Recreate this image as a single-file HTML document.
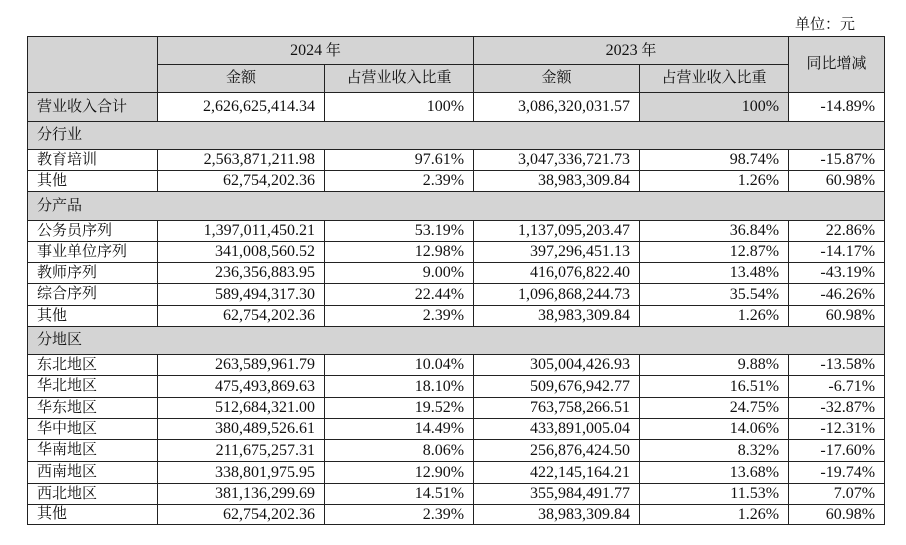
<!DOCTYPE html>
<html><head><meta charset="utf-8"><style>
body{margin:0;width:906px;height:545px;background:#fff;position:relative;font-family:"Liberation Serif","Noto Serif CJK SC",serif;font-size:15px;color:#111}
.unit{position:absolute;left:795px;top:13px;font-size:15px}
table{position:absolute;left:27px;top:36px;border-collapse:collapse;table-layout:fixed;width:857px}
td{border:1px solid #222;padding:0 9px 0 9px;white-space:nowrap;line-height:1;overflow:hidden}
.g{background:#d4d4d4}
.r{text-align:right;font-size:16px}
.c{text-align:center}
</style></head><body>
<div class="unit">单位：元</div>
<table>
<colgroup><col style="width:130px"><col style="width:167px"><col style="width:149px"><col style="width:166px"><col style="width:149px"><col style="width:96px"></colgroup>
<tr style="height:28px"><td class="g" rowspan="2"></td><td class="g c" colspan="2"><span style="font-size:16px">2024</span> 年</td><td class="g c" colspan="2"><span style="font-size:16px">2023</span> 年</td><td class="g c" rowspan="2">同比增减</td></tr>
<tr style="height:28px"><td class="g c">金额</td><td class="g c">占营业收入比重</td><td class="g c">金额</td><td class="g c">占营业收入比重</td></tr>
<tr style="height:29px"><td class="g">营业收入合计</td><td class="r">2,626,625,414.34</td><td class="r">100%</td><td class="r">3,086,320,031.57</td><td class="r g">100%</td><td class="r">-14.89%</td></tr>
<tr style="height:28px"><td class="g" colspan="6">分行业</td></tr>
<tr style="height:21px"><td>教育培训</td><td class="r">2,563,871,211.98</td><td class="r">97.61%</td><td class="r">3,047,336,721.73</td><td class="r">98.74%</td><td class="r">-15.87%</td></tr>
<tr style="height:21px"><td>其他</td><td class="r">62,754,202.36</td><td class="r">2.39%</td><td class="r">38,983,309.84</td><td class="r">1.26%</td><td class="r">60.98%</td></tr>
<tr style="height:29px"><td class="g" colspan="6">分产品</td></tr>
<tr style="height:21px"><td>公务员序列</td><td class="r">1,397,011,450.21</td><td class="r">53.19%</td><td class="r">1,137,095,203.47</td><td class="r">36.84%</td><td class="r">22.86%</td></tr>
<tr style="height:21px"><td>事业单位序列</td><td class="r">341,008,560.52</td><td class="r">12.98%</td><td class="r">397,296,451.13</td><td class="r">12.87%</td><td class="r">-14.17%</td></tr>
<tr style="height:21px"><td>教师序列</td><td class="r">236,356,883.95</td><td class="r">9.00%</td><td class="r">416,076,822.40</td><td class="r">13.48%</td><td class="r">-43.19%</td></tr>
<tr style="height:22px"><td>综合序列</td><td class="r">589,494,317.30</td><td class="r">22.44%</td><td class="r">1,096,868,244.73</td><td class="r">35.54%</td><td class="r">-46.26%</td></tr>
<tr style="height:21px"><td>其他</td><td class="r">62,754,202.36</td><td class="r">2.39%</td><td class="r">38,983,309.84</td><td class="r">1.26%</td><td class="r">60.98%</td></tr>
<tr style="height:28px"><td class="g" colspan="6">分地区</td></tr>
<tr style="height:21px"><td>东北地区</td><td class="r">263,589,961.79</td><td class="r">10.04%</td><td class="r">305,004,426.93</td><td class="r">9.88%</td><td class="r">-13.58%</td></tr>
<tr style="height:22px"><td>华北地区</td><td class="r">475,493,869.63</td><td class="r">18.10%</td><td class="r">509,676,942.77</td><td class="r">16.51%</td><td class="r">-6.71%</td></tr>
<tr style="height:21px"><td>华东地区</td><td class="r">512,684,321.00</td><td class="r">19.52%</td><td class="r">763,758,266.51</td><td class="r">24.75%</td><td class="r">-32.87%</td></tr>
<tr style="height:21px"><td>华中地区</td><td class="r">380,489,526.61</td><td class="r">14.49%</td><td class="r">433,891,005.04</td><td class="r">14.06%</td><td class="r">-12.31%</td></tr>
<tr style="height:22px"><td>华南地区</td><td class="r">211,675,257.31</td><td class="r">8.06%</td><td class="r">256,876,424.50</td><td class="r">8.32%</td><td class="r">-17.60%</td></tr>
<tr style="height:22px"><td>西南地区</td><td class="r">338,801,975.95</td><td class="r">12.90%</td><td class="r">422,145,164.21</td><td class="r">13.68%</td><td class="r">-19.74%</td></tr>
<tr style="height:21px"><td>西北地区</td><td class="r">381,136,299.69</td><td class="r">14.51%</td><td class="r">355,984,491.77</td><td class="r">11.53%</td><td class="r">7.07%</td></tr>
<tr style="height:20px"><td>其他</td><td class="r">62,754,202.36</td><td class="r">2.39%</td><td class="r">38,983,309.84</td><td class="r">1.26%</td><td class="r">60.98%</td></tr>
</table>
</body></html>
